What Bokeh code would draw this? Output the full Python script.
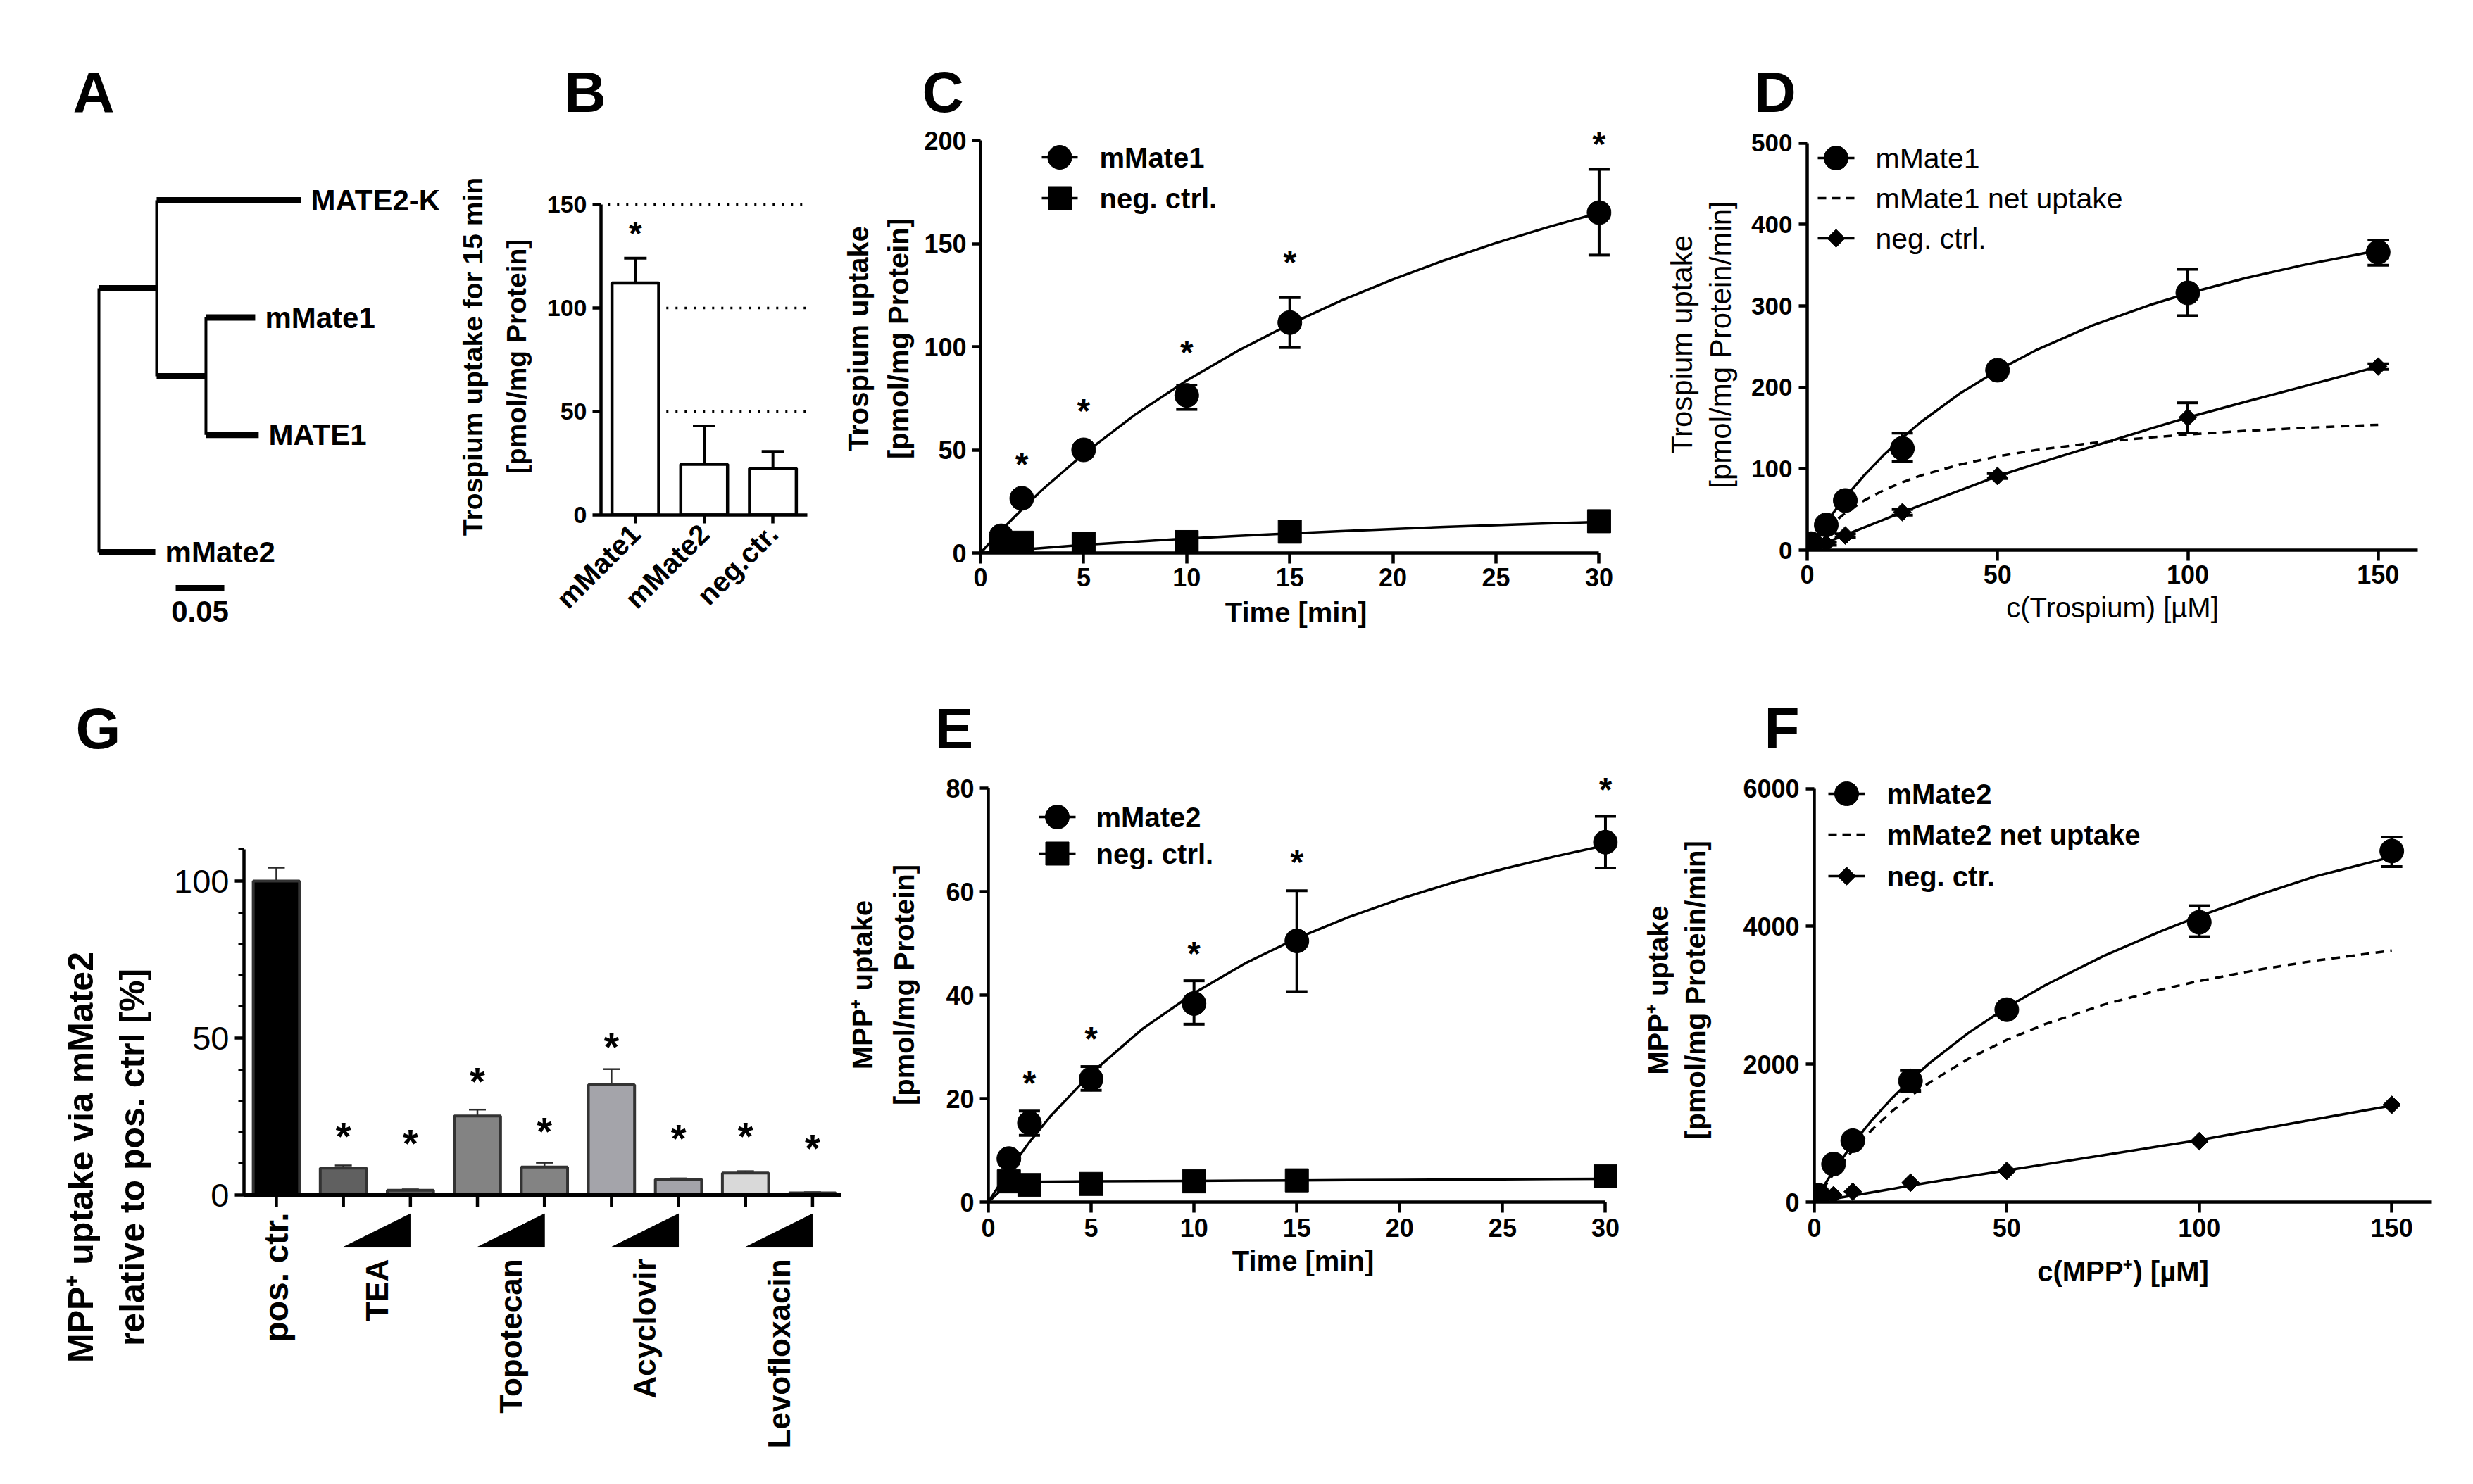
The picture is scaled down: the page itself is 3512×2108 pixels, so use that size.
import math
from bokeh.plotting import figure
from bokeh.layouts import row, column
from bokeh.models import ColumnDataSource, Whisker, TeeHead, Label, Span, FixedTicker, Range1d
from bokeh.core.properties import value
from bokeh.embed import file_html
from bokeh.resources import INLINE

FONT = "Liberation Sans"

# ===================== DATA =====================
# A - tree (parent, child, branch length)
tree_edges = [("root", "n1", 0.0594), ("n1", "MATE2-K", 0.1486), ("n1", "n2", 0.0507),
              ("n2", "mMate1", 0.0507), ("n2", "MATE1", 0.0543), ("root", "mMate2", 0.0580)]
tree_leaves = ["mMate2", "MATE1", "mMate1", "MATE2-K"]  # bottom -> top
scale_len = 0.05
scale_text = "0.05"

# B
B_cats = ["mMate1", "mMate2", "neg.ctr."]
B_vals = [112.0, 24.5, 22.5]
B_lo = [100.0, 7.0, 14.3]
B_hi = [124.0, 43.0, 30.7]
B_star_x = [1]
B_star_y = [139.5]
B_yticks = [0, 50, 100, 150]
B_grid_y = [50, 100, 150]
B_grid_x0 = [1.45, 1.45, 0.6]

# C
C_t = [1, 2, 5, 10, 15, 30]
C_m1 = [8.3, 26.5, 50.0, 76.4, 111.7, 165.0]
C_m1_lo = [7.0, 24.5, 47.5, 69.6, 99.6, 144.4]
C_m1_hi = [9.6, 28.5, 52.5, 81.4, 123.8, 186.0]
C_neg = [3.3, 5.0, 4.5, 5.3, 10.3, 15.4]
C_star_t = [2, 5, 10, 15, 30]
C_star_y = [46.6, 72.6, 101.0, 144.4, 202.0]
C_fit_t = [0, 1, 2, 3, 5, 7.5, 10, 12.5, 15, 17.5, 20, 22.5, 25, 27.5, 30]
C_fit_m1 = [0, 10.9, 21.1, 30.7, 48.0, 67.1, 83.6, 98.1, 110.9, 122.4, 132.6, 141.9, 150.3, 157.9, 164.9]
C_fit_neg = [0, 0.8, 1.6, 2.4, 3.9, 5.5, 7.0, 8.3, 9.5, 10.6, 11.6, 12.6, 13.5, 14.3, 15.0]
C_xticks = [0, 5, 10, 15, 20, 25, 30]
C_yticks = [0, 50, 100, 150, 200]

# D
D_c = [1, 5, 10, 25, 50, 100, 150]
D_m1 = [8, 31, 61, 125, 221, 316, 366]
D_m1_lo = [6, 28, 57, 108.6, 216, 288, 350]
D_m1_hi = [10, 34, 65, 143.8, 226, 345, 381]
D_neg = [2, 8, 18, 46.6, 91, 163, 225.6]
D_neg_lo = [1, 6, 16, 43, 88, 144, 222]
D_neg_hi = [3, 10, 20, 50, 94, 181, 229]
D_fit_c = [0, 2.5, 5, 10, 15, 20, 25, 30, 40, 50, 60, 75, 90, 100, 115, 130, 150]
D_fit_m1 = [0, 17.8, 34.6, 65.0, 92.1, 116.4, 138.2, 157.8, 192.1, 220.7, 245.4, 276.1, 301.1, 315.4, 334.0, 349.9, 368.2]
D_fit_net = [0, 14.0, 26.1, 45.8, 61.1, 73.4, 83.4, 91.9, 105.1, 115.1, 122.9, 131.7, 138.4, 142.1, 146.5, 150.1, 154.0]
D_fit_neg = [0, 4.7, 9.4, 18.7, 28.0, 37.3, 46.6, 55.4, 73.2, 91.0, 105.8, 127.5, 149.0, 163.0, 182.0, 200.5, 225.6]
D_xticks = [0, 50, 100, 150]
D_yticks = [0, 100, 200, 300, 400, 500]

# E
E_t = [1, 2, 5, 10, 15, 30]
E_m2 = [8.4, 15.3, 23.8, 38.4, 50.5, 69.6]
E_m2_lo = [7.4, 12.9, 21.6, 34.4, 40.7, 64.6]
E_m2_hi = [9.4, 17.6, 26.2, 42.8, 60.2, 74.6]
E_neg = [4.0, 3.3, 3.5, 4.0, 4.2, 5.0]
E_star_t = [2, 5, 10, 15, 30]
E_star_y = [24.4, 33.0, 49.5, 67.2, 81.2]
E_fit_t = [0, 1, 2, 3, 5, 7.5, 10, 12.5, 15, 17.5, 20, 22.5, 25, 27.5, 30]
E_fit_m2 = [0, 6.1, 11.6, 16.5, 24.9, 33.5, 40.4, 46.2, 51.0, 55.1, 58.6, 61.7, 64.4, 66.8, 69.0]
E_fit_neg = [0, 3.7, 3.9, 3.95, 4.0, 4.05, 4.1, 4.15, 4.2, 4.25, 4.3, 4.35, 4.4, 4.45, 4.5]
E_xticks = [0, 5, 10, 15, 20, 25, 30]
E_yticks = [0, 20, 40, 60, 80]

# F
F_c = [1, 5, 10, 25, 50, 100, 150]
F_m2 = [100, 551, 890, 1758, 2792, 4060, 5094]
F_m2_lo = [60, 500, 840, 1607, 2740, 3850, 4868]
F_m2_hi = [140, 600, 940, 1909, 2840, 4300, 5298]
F_neg = [40, 100, 150, 280, 453, 883, 1411]
F_fit_c = [0, 2.5, 5, 10, 15, 20, 25, 30, 40, 50, 60, 75, 90, 100, 115, 130, 150]
F_fit_m2 = [0, 235, 453, 846, 1190, 1496, 1771, 2019, 2453, 2824, 3147, 3567, 3930, 4148, 4449, 4724, 5010]
F_fit_net = [0, 212, 406, 752, 1049, 1308, 1536, 1737, 2077, 2354, 2583, 2862, 3084, 3208, 3368, 3502, 3650]
F_fit_neg = [0, 23, 47, 94, 141, 188, 240, 285, 372, 460, 548, 680, 812, 900, 1050, 1200, 1400]
F_xticks = [0, 50, 100, 150]
F_yticks = [0, 2000, 4000, 6000]

# G
G_bars = ["pos. ctr.", "TEA low", "TEA high", "Topotecan low", "Topotecan high",
          "Acyclovir low", "Acyclovir high", "Levofloxacin low", "Levofloxacin high"]
G_vals = [100.0, 8.6, 1.5, 25.2, 8.9, 35.1, 5.0, 7.0, 0.7]
G_lo = [96.0, 7.5, 1.2, 22.5, 7.8, 29.8, 4.7, 6.6, 0.5]
G_hi = [104.3, 9.4, 1.8, 27.2, 10.3, 40.1, 5.3, 7.6, 0.9]
G_star_idx = [2, 3, 4, 5, 6, 7, 8, 9]
G_star_y = [21.7, 19.3, 39.2, 23.1, 50.0, 20.9, 21.7, 17.7]
G_groups = ["TEA", "Topotecan", "Acyclovir", "Levofloxacin"]
G_group_bars = [(2, 3), (4, 5), (6, 7), (8, 9)]
G_colors = ["#000000", "#606060", "#606060", "#838383", "#838383",
            "#a4a4aa", "#a4a4aa", "#d9d9d9", "#d9d9d9"]
G_yticks = [0, 50, 100]
G_yminor = [10, 20, 30, 40, 60, 70, 80, 90, 110]

# panel letters
letters_top = ["A", "B", "C", "D"]
letters_bot = ["G", "E", "F"]


# ===================== HELPERS =====================
def make_fig(W, H, bl, br, bt, bb, xr, yr, page_left, page_top):
    p = figure(width=W, height=H, min_border_left=bl, min_border_right=br,
               min_border_top=bt, min_border_bottom=bb, x_range=Range1d(*xr), y_range=Range1d(*yr),
               output_backend="svg", toolbar_location=None, tools="", frame_align=False)
    p.xgrid.visible = False
    p.ygrid.visible = False
    p.outline_line_color = None
    p.background_fill_color = "white"
    p.border_fill_color = "white"
    fw, fh = W - bl - br, H - bt - bb
    info = dict(fl=page_left + bl, fb=page_top + H - bb, x0=xr[0], y0=yr[0],
                xpx=fw / (xr[1] - xr[0]), ypx=fh / (yr[1] - yr[0]))
    return p, info


def style_axis(ax, size, bold=True, tick_out=12, standoff=8, lw=4.5):
    ax.axis_line_width = lw
    ax.axis_line_color = "black"
    ax.major_tick_line_width = lw
    ax.major_tick_line_color = "black"
    ax.major_tick_in = 0
    ax.major_tick_out = tick_out
    ax.minor_tick_line_color = None
    ax.major_label_text_font = FONT
    ax.major_label_text_font_size = f"{size}px"
    ax.major_label_text_font_style = "bold" if bold else "normal"
    ax.major_label_text_color = "black"
    ax.major_label_standoff = standoff


def axis_title(ax, text, size, bold=True, standoff=10, lh=1.2):
    ax.axis_label = text
    ax.axis_label_text_font = FONT
    ax.axis_label_text_font_size = f"{size}px"
    ax.axis_label_text_font_style = "bold" if bold else "normal"
    ax.axis_label_text_color = "black"
    ax.axis_label_text_line_height = lh
    ax.axis_label_standoff = standoff


def p2d(info, px, py):
    return (info["x0"] + (px - info["fl"]) / info["xpx"], info["y0"] + (info["fb"] - py) / info["ypx"])


def whisk(p, x, lo, hi, lw=4, size=30, color="black"):
    src = ColumnDataSource(dict(x=x, lo=lo, hi=hi))
    p.add_layout(Whisker(source=src, base="x", lower="lo", upper="hi", dimension="height",
                         line_width=lw, line_color=color,
                         upper_head=TeeHead(size=size, line_width=lw, line_color=color),
                         lower_head=TeeHead(size=size, line_width=lw, line_color=color)))


def stars(p, info, xs, ys, size):
    shift = 0.22 * size / info["ypx"]
    p.text(x=xs, y=[y - shift for y in ys], text=["*"] * len(xs), text_align="center",
           text_baseline="middle", text_font=value(FONT), text_font_size=value(f"{size}px"),
           text_font_style="bold", text_color="black")


def diamonds(p, xs, ys, size=18):
    p.scatter(xs, ys, marker="square", angle=math.pi / 4, size=size, fill_color="black", line_color="black")


def legend(p, info, items, lx0, lx1, tx, size, bold):
    for py, kind, txt in items:
        xa, y = p2d(info, lx0, py)
        xb, _ = p2d(info, lx1, py)
        xt, _ = p2d(info, tx, py)
        xm = (xa + xb) / 2
        if kind == "dash":
            p.line([xa, xb], [y, y], line_width=3.5, line_color="black", line_dash="12 8")
        else:
            p.line([xa, xb], [y, y], line_width=3.5, line_color="black")
            if kind == "diamond":
                diamonds(p, [xm], [y])
            else:
                sz = {"circle": 34, "square": 33}[kind]
                p.scatter([xm], [y], marker=kind, size=sz, fill_color="black", line_color="black")
        p.add_layout(Label(x=xt, y=y, text=txt, text_align="left", text_baseline="middle",
                           text_font=FONT, text_font_size=f"{size}px",
                           text_font_style="bold" if bold else "normal", text_color="black"))


def strip(H, y_top, xs, ys, texts):
    p = figure(width=3496, height=H, min_border=0, x_range=Range1d(8, 3504), y_range=Range1d(y_top + H, y_top),
               output_backend="svg", toolbar_location=None, tools="", frame_align=False)
    p.axis.visible = False
    p.xgrid.visible = False
    p.ygrid.visible = False
    p.outline_line_color = None
    p.text(x=xs, y=ys, text=texts, text_align="left", text_baseline="middle", text_font=value(FONT),
           text_font_size=value("82px"), text_font_style="bold", text_color="black")
    return p


ROW1 = 176
ROW2 = 1084
H1 = 950 - ROW1
H2 = 2100 - ROW2

# ===================== letter strips =====================
sTop = strip(ROW1 - 8, 8, [103, 801, 1309, 2491], [130, 130, 130, 130], letters_top)
sBot = strip(ROW2 - 950, 950, [107, 1327, 2505], [1034, 1034, 1034], letters_bot)

# ===================== A =====================
pA, iA = make_fig(624, H1, 0, 0, 0, 0, (-0.09565, 0.3565), (-0.9958, (784 - ROW1) / 166.7), 8, ROW1)
pA.axis.visible = False
children = {}
xpos = {"root": 0.0}
for par, ch, ln in tree_edges:
    children.setdefault(par, []).append(ch)
    xpos[ch] = xpos[par] + ln
ypos = {name: float(i) for i, name in enumerate(tree_leaves)}


def gety(n):
    if n not in ypos:
        ys = [gety(c) for c in children[n]]
        ypos[n] = sum(ys) / len(ys)
    return ypos[n]


gety("root")
pA.segment(x0=[xpos[p_] for p_, c, l in tree_edges], y0=[ypos[c] for p_, c, l in tree_edges],
           x1=[xpos[c] for p_, c, l in tree_edges], y1=[ypos[c] for p_, c, l in tree_edges],
           line_width=9, line_color="black", line_cap="butt")
vn = list(children.keys())
pA.segment(x0=[xpos[n] for n in vn], y0=[min(ypos[c] for c in children[n]) for n in vn],
           x1=[xpos[n] for n in vn], y1=[max(ypos[c] for c in children[n]) for n in vn],
           line_width=4, line_color="black", line_cap="butt")
pA.text(x=[xpos[n] for n in tree_leaves], y=[ypos[n] for n in tree_leaves], text=tree_leaves,
        x_offset=14, text_align="left", text_baseline="middle", text_font=value(FONT),
        text_font_size=value("42px"), text_font_style="bold", text_color="black")
SB_X0, SB_Y, SB_TY = 0.079, -0.306, -0.504
pA.segment(x0=[SB_X0], y0=[SB_Y], x1=[SB_X0 + scale_len], y1=[SB_Y], line_width=9, line_color="black",
           line_cap="butt")
pA.text(x=[SB_X0 + scale_len / 2], y=[SB_TY], text=[scale_text], text_align="center", text_baseline="middle",
        text_font=value(FONT), text_font_size=value("42px"), text_font_style="bold", text_color="black")

# ===================== B =====================
pB, iB = make_fig(548, H1, 221, 34, 281 - ROW1, 219, (0.5, 3.5), (0, 153), 632, ROW1)
xB = [1, 2, 3]
pB.segment(x0=B_grid_x0, y0=B_grid_y, x1=[3.5] * len(B_grid_y), y1=B_grid_y, line_width=3.5,
           line_color="black", line_dash="3 10")
pB.vbar(x=xB, top=B_vals, bottom=0, width=0.68, fill_color="white", line_color="black", line_width=4.5)
whisk(pB, xB, B_lo, B_hi, lw=4, size=32)
stars(pB, iB, B_star_x, B_star_y, 48)
style_axis(pB.yaxis[0], 34, tick_out=12, standoff=8)
pB.yaxis.ticker = FixedTicker(ticks=B_yticks)
pB.yaxis.bounds = (0, 150)
axis_title(pB.yaxis[0], "Trospium uptake for 15 min\n[pmol/mg Protein]", 39, standoff=19, lh=1.44)
style_axis(pB.xaxis[0], 40, tick_out=12, standoff=8)
pB.xaxis.ticker = FixedTicker(ticks=xB)
pB.xaxis.major_label_overrides = {1: B_cats[0], 2: B_cats[1], 3: B_cats[2]}
pB.xaxis.major_label_orientation = math.pi / 4

# ===================== C =====================
pC, iC = make_fig(1160, H1, 212, 52, 0, 165, (0, 30.6), (0, (785 - ROW1) / 2.93), 1180, ROW1)
pC.line(C_fit_t, C_fit_m1, line_width=3.5, line_color="black")
pC.line(C_fit_t, C_fit_neg, line_width=3.5, line_color="black")
pC.scatter(C_t, C_neg, marker="square", size=33, fill_color="black", line_color="black")
pC.scatter(C_t, C_m1, marker="circle", size=34, fill_color="black", line_color="black")
whisk(pC, C_t, C_m1_lo, C_m1_hi, lw=4, size=30)
stars(pC, iC, C_star_t, C_star_y, 48)
style_axis(pC.xaxis[0], 36, tick_out=15, standoff=6)
pC.xaxis.ticker = FixedTicker(ticks=C_xticks)
pC.xaxis.bounds = (0, 30)
axis_title(pC.xaxis[0], "Time [min]", 40, standoff=12)
style_axis(pC.yaxis[0], 36, tick_out=12, standoff=8)
pC.yaxis.ticker = FixedTicker(ticks=C_yticks)
pC.yaxis.bounds = (0, 200)
axis_title(pC.yaxis[0], "Trospium uptake\n[pmol/mg Protein]", 40, standoff=11, lh=1.3)
legend(pC, iC, [(223, "circle", "mMate1"), (281, "square", "neg. ctrl.")], 1479, 1530, 1561, 40, True)

# ===================== D =====================
pD, iD = make_fig(1164, H1, 226, 71, 197 - ROW1, 169, (0, 160.4), (0, 505), 2340, ROW1)
pD.line(D_fit_c, D_fit_net, line_width=3.5, line_color="black", line_dash="12 9")
pD.line(D_fit_c, D_fit_m1, line_width=3.5, line_color="black")
pD.line(D_fit_c, D_fit_neg, line_width=3.5, line_color="black")
diamonds(pD, D_c, D_neg)
pD.scatter(D_c, D_m1, marker="circle", size=34, fill_color="black", line_color="black")
whisk(pD, D_c, D_m1_lo, D_m1_hi, lw=4, size=30)
whisk(pD, D_c, D_neg_lo, D_neg_hi, lw=4, size=30)
style_axis(pD.xaxis[0], 36, tick_out=15, standoff=6)
pD.xaxis.ticker = FixedTicker(ticks=D_xticks)
axis_title(pD.xaxis[0], "c(Trospium) [µM]", 40, bold=False, standoff=9)
style_axis(pD.yaxis[0], 35, tick_out=12, standoff=9)
pD.yaxis.ticker = FixedTicker(ticks=D_yticks)
pD.yaxis.bounds = (0, 500)
axis_title(pD.yaxis[0], "Trospium uptake\n[pmol/mg Protein/min]", 42, bold=False, standoff=17, lh=1.17)
legend(pD, iD, [(224, "circle", "mMate1"), (281, "dash", "mMate1 net uptake"), (338, "diamond", "neg. ctrl.")],
       2581, 2633, 2663, 41, False)

# ===================== G =====================
pG, iG = make_fig(1187, H2, 338, 0, 1202 - ROW2, 15, (0.517, 9.437), (-87, 111), 8, ROW2)
xG = list(range(1, len(G_vals) + 1))
pG.xaxis.visible = False
pG.vbar(x=xG, top=G_vals, bottom=0, width=0.69, fill_color=G_colors, line_color="#333333", line_width=4)
whisk(pG, xG, G_lo, G_hi, lw=2.5, size=24, color="#2a2a2a")
pG.add_layout(Span(location=0, dimension="width", line_color="black", line_width=5))
G_TICK = 3.8
pG.segment(x0=xG, y0=[0] * len(xG), x1=xG, y1=[-G_TICK] * len(xG), line_width=4.5, line_color="black")
W_BOT, W_TOP = -16.6, -6.0
pG.patches(xs=[[a, b, b] for a, b in G_group_bars], ys=[[W_BOT, W_BOT, W_TOP] for _ in G_group_bars],
           fill_color="black", line_color="black", line_width=1)
POS_TOP, GRP_TOP = -5.6, -20.4
pG.text(x=[1], y=[POS_TOP], text=[G_bars[0]], angle=math.pi / 2, text_align="right", text_baseline="middle",
        text_font=value(FONT), text_font_size=value("48px"), text_font_style="bold", text_color="black")
pG.text(x=[(a + b) / 2 for a, b in G_group_bars], y=[GRP_TOP] * len(G_groups), text=G_groups,
        angle=math.pi / 2, text_align="right", text_baseline="middle",
        text_font=value(FONT), text_font_size=value("44px"), text_font_style="bold", text_color="black")
stars(pG, iG, G_star_idx, G_star_y, 56)
style_axis(pG.yaxis[0], 47, bold=False, tick_out=13, standoff=8)
pG.yaxis.ticker = FixedTicker(ticks=G_yticks, minor_ticks=G_yminor)
pG.yaxis.bounds = (0, 110)
pG.yaxis.minor_tick_line_color = "black"
pG.yaxis.minor_tick_line_width = 3
pG.yaxis.minor_tick_in = 0
pG.yaxis.minor_tick_out = 8
axis_title(pG.yaxis[0], "MPP\u207a uptake via mMate2\nrelative to pos. ctrl [%]", 50, standoff=28, lh=1.3)

# ===================== E =====================
pE, iE = make_fig(1130, H2, 208, 28, 1090 - ROW2, 393, (0, 30.6), (0, 84), 1195, ROW2)
pE.line(E_fit_t, E_fit_m2, line_width=3.5, line_color="black")
pE.line(E_fit_t, E_fit_neg, line_width=3.5, line_color="black")
pE.scatter(E_t, E_neg, marker="square", size=33, fill_color="black", line_color="black")
pE.scatter(E_t, E_m2, marker="circle", size=34, fill_color="black", line_color="black")
whisk(pE, E_t, E_m2_lo, E_m2_hi, lw=4, size=30)
stars(pE, iE, E_star_t, E_star_y, 48)
style_axis(pE.xaxis[0], 36, tick_out=15, standoff=8)
pE.xaxis.ticker = FixedTicker(ticks=E_xticks)
pE.xaxis.bounds = (0, 30)
axis_title(pE.xaxis[0], "Time [min]", 40, standoff=9)
style_axis(pE.yaxis[0], 36, tick_out=12, standoff=8)
pE.yaxis.ticker = FixedTicker(ticks=E_yticks)
pE.yaxis.bounds = (0, 80)
axis_title(pE.yaxis[0], "MPP\u207a uptake\n[pmol/mg Protein]", 40, standoff=34, lh=1.35)
legend(pE, iE, [(1160, "circle", "mMate2"), (1212, "square", "neg. ctrl.")], 1475, 1527, 1556, 40, True)

# ===================== F =====================
pF, iF = make_fig(1179, H2, 251, 51, 1105 - ROW2, 393, (0, 160.4), (0, 6150), 2325, ROW2)
pF.line(F_fit_c, F_fit_net, line_width=3.5, line_color="black", line_dash="12 9")
pF.line(F_fit_c, F_fit_m2, line_width=3.5, line_color="black")
pF.line(F_fit_c, F_fit_neg, line_width=3.5, line_color="black")
diamonds(pF, F_c, F_neg)
pF.scatter(F_c, F_m2, marker="circle", size=34, fill_color="black", line_color="black")
whisk(pF, F_c, F_m2_lo, F_m2_hi, lw=4, size=30)
style_axis(pF.xaxis[0], 36, tick_out=15, standoff=8)
pF.xaxis.ticker = FixedTicker(ticks=F_xticks)
axis_title(pF.xaxis[0], "c(MPP\u207a) [µM]", 40, standoff=24)
style_axis(pF.yaxis[0], 36, tick_out=12, standoff=9)
pF.yaxis.ticker = FixedTicker(ticks=F_yticks)
pF.yaxis.bounds = (0, 6000)
axis_title(pF.yaxis[0], "MPP\u207a uptake\n[pmol/mg Protein/min]", 40, standoff=42, lh=1.22)
legend(pF, iF, [(1127, "circle", "mMate2"), (1185, "dash", "mMate2 net uptake"), (1244, "diamond", "neg. ctr.")],
       2596, 2648, 2679, 40, True)

layout = column(sTop, row(pA, pB, pC, pD, spacing=0), sBot, row(pG, pE, pF, spacing=0), spacing=0,
                margin=(8, 0, 0, 8))
open("out.html", "w").write(file_html(layout, INLINE))
